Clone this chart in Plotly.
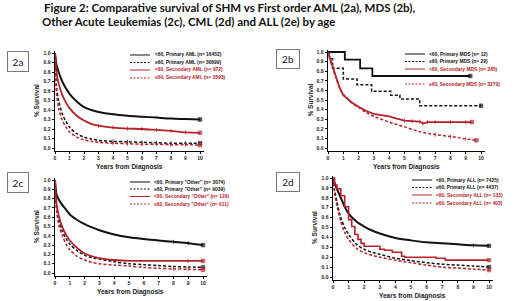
import plotly.graph_objects as go

W, H = 520, 301

# ---------------- data ----------------
t_smooth = [0, 0.1, 0.25, 0.5, 0.75, 1, 1.5, 2, 2.5, 3, 4, 5, 6, 7, 8, 9, 10]

# 2a AML
a_lt60_primary = [1.0, 0.88, 0.80, 0.70, 0.63, 0.57, 0.49, 0.43, 0.40, 0.38, 0.355, 0.34, 0.33, 0.32, 0.31, 0.305, 0.30]
a_ge60_primary = [1.0, 0.65, 0.50, 0.36, 0.28, 0.22, 0.15, 0.115, 0.095, 0.08, 0.07, 0.065, 0.06, 0.055, 0.05, 0.05, 0.05]
a_lt60_secondary = [1.0, 0.80, 0.68, 0.56, 0.48, 0.42, 0.34, 0.29, 0.255, 0.235, 0.215, 0.205, 0.20, 0.19, 0.18, 0.165, 0.16]
a_ge60_secondary = [1.0, 0.58, 0.42, 0.29, 0.22, 0.17, 0.115, 0.085, 0.07, 0.06, 0.05, 0.045, 0.04, 0.04, 0.035, 0.035, 0.03]

# 2b MDS
b1_t = [0, 1.1, 2.1, 2.9, 9.3]
b1_s = [1.0, 0.92, 0.83, 0.75, 0.75]
b2_t = [0, 0.1, 0.3, 1.0, 1.9, 2.85, 4.1, 4.7, 6.0, 10.0]
b2_s = [1.0, 0.93, 0.83, 0.72, 0.66, 0.59, 0.55, 0.51, 0.44, 0.44]
b3_t = [0, 0.1, 0.25, 0.5, 0.75, 1, 1.25, 1.5, 2, 2.5, 3, 3.5, 4, 4.5, 5, 5.5, 6, 6.2, 6.5, 7, 8, 9, 9.4]
b3_s = [1.0, 0.95, 0.86, 0.74, 0.63, 0.55, 0.51, 0.48, 0.43, 0.385, 0.355, 0.34, 0.33, 0.305, 0.285, 0.28, 0.275, 0.255, 0.27, 0.27, 0.27, 0.27, 0.27]
b4_t = [0, 0.25, 0.5, 0.75, 1, 1.5, 2, 2.5, 3, 4, 5, 6, 7, 8, 9, 9.7]
b4_s = [1.0, 0.86, 0.74, 0.63, 0.56, 0.48, 0.42, 0.37, 0.33, 0.27, 0.22, 0.17, 0.14, 0.12, 0.095, 0.08]

# 2c Other acute leukemias
c_lt60_primary = [1.0, 0.85, 0.79, 0.73, 0.68, 0.63, 0.57, 0.525, 0.49, 0.46, 0.415, 0.385, 0.365, 0.35, 0.335, 0.32, 0.30]
c_ge60_primary = [1.0, 0.72, 0.58, 0.45, 0.37, 0.31, 0.24, 0.19, 0.165, 0.15, 0.12, 0.10, 0.09, 0.08, 0.07, 0.065, 0.06]
c_lt60_secondary = [1.0, 0.75, 0.62, 0.49, 0.41, 0.35, 0.27, 0.21, 0.18, 0.16, 0.14, 0.13, 0.13, 0.13, 0.13, 0.13, 0.13]
c_ge60_secondary = [1.0, 0.68, 0.52, 0.40, 0.31, 0.25, 0.18, 0.14, 0.115, 0.10, 0.085, 0.075, 0.06, 0.05, 0.045, 0.04, 0.035]

# 2d ALL
d_lt60_primary = [1.0, 0.95, 0.89, 0.80, 0.71, 0.64, 0.56, 0.51, 0.47, 0.44, 0.395, 0.37, 0.35, 0.34, 0.33, 0.32, 0.315]
d_ge60_primary = [1.0, 0.88, 0.76, 0.60, 0.50, 0.43, 0.33, 0.28, 0.25, 0.23, 0.19, 0.165, 0.145, 0.13, 0.12, 0.11, 0.10]
d3_t = [0, 0.1, 0.25, 0.5, 0.75, 1.0, 1.2, 1.4, 1.6, 1.8, 2.0, 2.3, 3.0, 3.3, 3.8, 4.4, 4.6, 6.6, 7.2, 10.0]
d3_s = [1.0, 0.93, 0.89, 0.82, 0.71, 0.58, 0.51, 0.43, 0.38, 0.34, 0.31, 0.31, 0.28, 0.27, 0.25, 0.21, 0.20, 0.19, 0.17, 0.17]
d_ge60_secondary = [1.0, 0.85, 0.72, 0.56, 0.45, 0.38, 0.29, 0.245, 0.22, 0.20, 0.17, 0.145, 0.12, 0.10, 0.09, 0.08, 0.07]

legend_a = ["<60, Primary AML (n= 16452)", "\u226560, Primary AML (n= 30699)",
            "<60, Secondary AML (n= 972)", "\u226560, Secondary AML (n= 3593)"]
legend_b = ["<60, Primary MDS (n= 12)", "\u226560, Primary MDS (n= 29)",
            "<60, Secondary MDS (n= 285)", "\u226560, Secondary MDS (n= 3279)"]
legend_c = ["<60, Primary \"Other\" (n= 3074)", "\u226560, Primary \"Other\" (n= 9039)",
            "<60, Secondary \"Other\" (n= 129)", "\u226560, Secondary \"Other\" (n= 611)"]
legend_d = ["<60, Primary ALL (n= 7425)", "\u226560, Primary ALL (n= 4437)",
            "<60, Secondary ALL (n= 133)", "\u226560, Secondary ALL (n= 403)"]
panel_labels = ["2a", "2b", "2c", "2d"]
y_ticks = [0.0, 0.1, 0.2, 0.3, 0.4, 0.5, 0.6, 0.7, 0.8, 0.9, 1.0]
x_ticks = [0, 1, 2, 3, 4, 5, 6, 7, 8, 9, 10]

title_lines = ["Figure 2: Comparative survival of SHM vs First order AML (2a), MDS (2b),",
               "Other Acute Leukemias (2c), CML (2d) and ALL (2e) by age"]

# ---------------- style ----------------
BLACK = "#111111"
RED = "#b5222a"
DASH = "3px,2px"
XLO, XHI = 0.0, 10.25
YLO, YHI = -0.03, 1.02

# panel pixel geometry: (x of t=0, x of t=10, y of s=0, y of s=1)
geom = [(55, 200, 148, 53), (328, 481, 148, 52), (55, 203, 273, 180), (333, 489, 277, 178)]
legend_geom = [  # line x0, x1, text x, rows y
    (130, 150, 153, [55, 62.5, 70, 78]),
    (405, 425, 427, [54, 61.5, 69, 84]),
    (130, 150, 152, [182, 189, 196.5, 204]),
    (412, 432, 434, [180, 187.5, 195, 203]),
]
box_geom = [(18, 61, 20, 19), (288, 59, 22, 18), (18, 182, 20, 19), (288, 182, 22, 18)]


def xdom(p0, p10):
    ppu = (p10 - p0) / 10.0
    return [(p0 + XLO * ppu) / W, (p0 + XHI * ppu) / W]


def ydom(p0, p1):
    ppu = p0 - p1
    bottom = p0 - YLO * ppu
    top = p0 - YHI * ppu
    return [1 - bottom / H, 1 - top / H]


fig = go.Figure()


def add_curve(i, t, s, color, dash, width, shape, censor_from):
    n = len(t)
    sizes = [3 if (t[k] >= censor_from and k < n - 1) else 0 for k in range(n)]
    sizes[-1] = 3.5
    symbols = ["line-ns"] * (n - 1) + ["square"]
    sfx = "" if i == 0 else str(i + 1)
    fig.add_trace(go.Scatter(
        x=t, y=s, mode="lines+markers",
        line=dict(color=color, width=width, dash=dash, shape=shape, smoothing=0.8 if shape == "spline" else None),
        marker=dict(symbol=symbols, size=sizes, color=color, line=dict(width=1, color=color)),
        xaxis="x" + sfx, yaxis="y" + sfx, showlegend=False, cliponaxis=False, hoverinfo="skip"))


# 2a
add_curve(0, t_smooth, a_lt60_primary, BLACK, "solid", 2.0, "spline", 99)
add_curve(0, t_smooth, a_ge60_primary, BLACK, DASH, 1.5, "spline", 4)
add_curve(0, t_smooth, a_lt60_secondary, RED, "solid", 1.8, "spline", 3)
add_curve(0, t_smooth, a_ge60_secondary, RED, DASH, 1.5, "spline", 4)
# 2b
add_curve(1, b1_t, b1_s, BLACK, "solid", 1.8, "hv", 99)
add_curve(1, b2_t, b2_s, BLACK, DASH, 1.5, "hv", 99)
add_curve(1, b3_t, b3_s, RED, "solid", 1.8, "linear", 5)
add_curve(1, b4_t, b4_s, RED, DASH, 1.5, "spline", 7)
# 2c
add_curve(2, t_smooth, c_lt60_primary, BLACK, "solid", 2.0, "spline", 8)
add_curve(2, t_smooth, c_ge60_primary, BLACK, DASH, 1.5, "spline", 99)
add_curve(2, t_smooth, c_lt60_secondary, RED, "solid", 1.8, "spline", 9)
add_curve(2, t_smooth, c_ge60_secondary, RED, DASH, 1.5, "spline", 8)
# 2d
add_curve(3, t_smooth, d_lt60_primary, BLACK, "solid", 2.0, "spline", 9)
add_curve(3, t_smooth, d_ge60_primary, BLACK, DASH, 1.5, "spline", 99)
add_curve(3, d3_t, d3_s, RED, "solid", 1.6, "hv", 99)
add_curve(3, t_smooth, d_ge60_secondary, RED, DASH, 1.5, "spline", 99)

tickfont = dict(family="Liberation Sans", size=5, color="#222222", weight="bold")
layout = dict(width=W, height=H, margin=dict(l=0, r=0, t=0, b=0),
              paper_bgcolor="white", plot_bgcolor="white", showlegend=False)
annotations = []
shapes = []
legends = [legend_a, legend_b, legend_c, legend_d]

for i, (p0, p10, q0, q1) in enumerate(geom):
    sfx = "" if i == 0 else str(i + 1)
    layout["xaxis" + sfx] = dict(domain=xdom(p0, p10), range=[XLO, XHI], anchor="y" + sfx,
                                 tickvals=x_ticks, showgrid=False, zeroline=False,
                                 showline=True, linecolor="black", linewidth=1.5,
                                 ticks="outside", ticklen=2, tickcolor="black", tickwidth=1,
                                 tickfont=tickfont, fixedrange=True)
    layout["yaxis" + sfx] = dict(domain=ydom(q0, q1), range=[YLO, YHI], anchor="x" + sfx,
                                 tickvals=y_ticks, tickformat=".1f", showgrid=False, zeroline=False,
                                 showline=True, linecolor="black", linewidth=1.5,
                                 ticks="outside", ticklen=2, tickcolor="black", tickwidth=1,
                                 tickfont=tickfont, fixedrange=True)
    # axis titles
    annotations.append(dict(text="Years from Diagnosis", xref="x" + sfx + " domain", yref="paper",
                            x=0.5, y=1 - (q0 + 19) / H, showarrow=False,
                            font=dict(family="Liberation Sans", size=6.5, color="#222", weight="bold"),
                            xanchor="center", yanchor="middle"))
    annotations.append(dict(text="% Survival", xref="paper", yref="y" + sfx + " domain",
                            x=(p0 - 18) / W, y=0.5, textangle=-90, showarrow=False,
                            font=dict(family="Liberation Sans", size=6.5, color="#222", weight="bold"),
                            xanchor="center", yanchor="middle"))
    # legend
    lx0, lx1, tx, rows = legend_geom[i]
    for k, (label, ry) in enumerate(zip(legends[i], rows)):
        col = BLACK if k < 2 else RED
        shapes.append(dict(type="line", xref="paper", yref="paper",
                           x0=lx0 / W, x1=lx1 / W, y0=1 - ry / H, y1=1 - ry / H,
                           line=dict(color=col, width=1, dash="solid" if k % 2 == 0 else "2px,1.5px")))
        annotations.append(dict(text=label, xref="paper", yref="paper", x=tx / W, y=1 - ry / H,
                                xanchor="left", yanchor="middle", showarrow=False,
                                font=dict(family="Liberation Sans", size=4.9, color=col, weight="bold")))
    # panel label box
    bx, by, bw, bh = box_geom[i]
    annotations.append(dict(text=panel_labels[i], xref="paper", yref="paper", x=bx / W, y=1 - by / H,
                            xanchor="center", yanchor="middle", showarrow=False,
                            width=bw, height=bh, bordercolor="#777777", borderwidth=1, borderpad=0,
                            font=dict(family="Lato", size=10, color="#111")))

# figure title
for j, (line, yy) in enumerate(zip(title_lines, [8, 21.5])):
    annotations.append(dict(text="<b>" + line + "</b>", xref="paper", yref="paper",
                            x=(42 - 2 * j) / W, y=1 - yy / H, xanchor="left", yanchor="middle",
                            showarrow=False, font=dict(family="Lato", size=11.5, color="#111")))

layout["annotations"] = annotations
layout["shapes"] = shapes
fig.update_layout(**layout)
fig.write_html("out.html", config={"displayModeBar": False, "staticPlot": True},
               post_script="document.body.style.margin='0';document.body.style.overflow='hidden';")
